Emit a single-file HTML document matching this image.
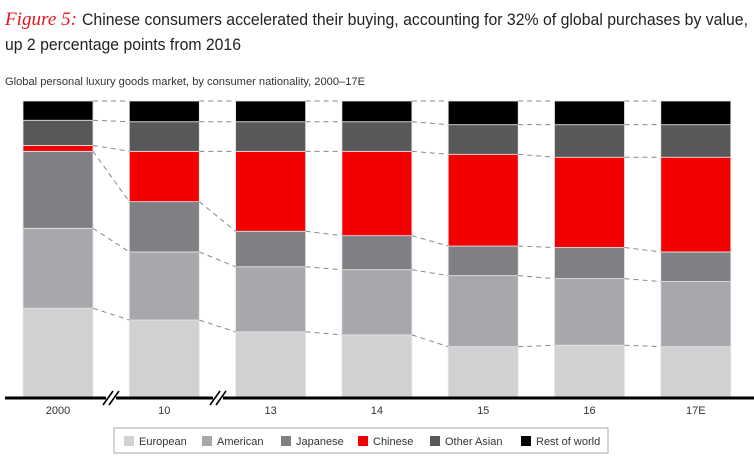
<!DOCTYPE html>
<html><head><meta charset="utf-8"><style>
body{margin:0;background:#fff;}
svg{display:block;font-family:"Liberation Sans",sans-serif;}
</style></head><body>
<svg width="754" height="465" viewBox="0 0 754 465">
<text x="5" y="25" font-size="19" fill="#e8141e" font-family="Liberation Serif" font-style="italic" textLength="72" lengthAdjust="spacingAndGlyphs">Figure 5:</text>
<text x="82" y="25" font-size="16.5" fill="#222" textLength="666" lengthAdjust="spacingAndGlyphs">Chinese consumers accelerated their buying, accounting for 32% of global purchases by value,</text>
<text x="5" y="50" font-size="16.5" fill="#222" textLength="236" lengthAdjust="spacingAndGlyphs">up 2 percentage points from 2016</text>
<text x="5" y="85" font-size="11" fill="#333" textLength="360" lengthAdjust="spacingAndGlyphs">Global personal luxury goods market, by consumer nationality, 2000–17E</text>
<g id="bars"></g>
<line x1="5" y1="398" x2="754" y2="398" stroke="#000" stroke-width="3"/>
<g id="breaks"></g>
<g id="labels"></g>
<rect x="114" y="428" width="494" height="25" fill="#fff" stroke="#aaa"/>
<g id="legend"></g>
</svg>
<script>
const categories=["2000","10","13","14","15","16","17E"];
const series=["European","American","Japanese","Chinese","Other Asian","Rest of world"];
const european=[30,26,22,21,17,17.5,17];
const american=[27,23,22,22,24,22.5,22];
const japanese=[26,17,12,11.5,10,10.5,10];
const chinese=[2,17,27,28.5,31,30.5,32];
const otherAsian=[8.5,10,10,10,10,11,11];
const restOfWorld=[6.5,7,7,7,8,8,8];
const colors=["#d0d1d3","#a7a8ab","#7f8084","#f50000","#58585a","#000000"];
const data=[european,american,japanese,chinese,otherAsian,restOfWorld];
const NS="http://www.w3.org/2000/svg";
const y0=397,H=296,bw=70;
const xPos=i=>23+i*106.3;
const yScale=v=>y0-v/100*H;
function mk(t,a,p){const e=document.createElementNS(NS,t);for(const k in a)e.setAttribute(k,a[k]);p.appendChild(e);return e;}
const gb=document.getElementById('bars');
const tops=[];
categories.forEach((c,i)=>{
  const tot=data.reduce((s,a)=>s+a[i],0);
  let cum=0;tops.push([]);
  data.forEach((arr,j)=>{
    const v=arr[i]/tot*100;
    const yt=yScale(cum+v),yb=yScale(cum);
    const r=mk('rect',{x:xPos(i),y:yt,width:bw,height:yb-yt,fill:colors[j],stroke:"#e6e6e6","stroke-width":0.8},gb);
    
    
    cum+=v;tops[i].push(yt);
  });
});
for(let i=0;i<categories.length-1;i++){
  tops[i].forEach((y,j)=>{
    const l=mk('line',{x1:xPos(i)+bw,y1:y,x2:xPos(i+1),y2:tops[i+1][j],stroke:"#888","stroke-width":1,"stroke-dasharray":"5,4"},gb);
    
    
  });
}
const gbr=document.getElementById('breaks');
[111,218].forEach(x=>{
  const r=mk('rect',{x:x-5,y:392,width:10,height:12,fill:"#fff"},gbr);
  
  
  [-3,3].forEach(d=>{const l=mk('line',{x1:x+d-5,y1:405,x2:x+d+5,y2:391,stroke:"#000","stroke-width":1.6},gbr);
  
  });
});
const gl=document.getElementById('labels');
categories.forEach((c,i)=>{
  const t=mk('text',{x:xPos(i)+bw/2,y:414,"font-size":11,fill:"#333","text-anchor":"middle"},gl);
  t.textContent=c;
  
  
});
const gle=document.getElementById('legend');
const lx=[124,202,281,358,430,521];
series.forEach((s,j)=>{
  const r=mk('rect',{x:lx[j],y:436,width:10,height:10,fill:colors[j]},gle);
  
  
  const t=mk('text',{x:lx[j]+15,y:445,"font-size":11,fill:"#333"},gle);
  t.textContent=s;
  
  
});
</script>
</body></html>
